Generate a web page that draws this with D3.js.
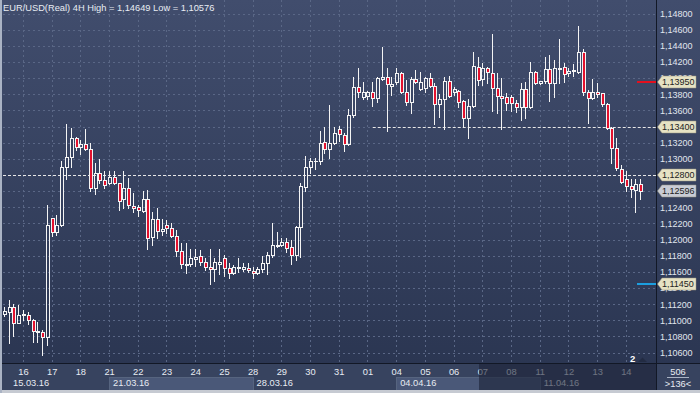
<!DOCTYPE html>
<html><head><meta charset="utf-8">
<script src="https://cdn.jsdelivr.net/npm/d3@7/dist/d3.min.js"></script>
<style>
body{margin:0;background:#fff}
svg{display:block}
text{font-family:"Liberation Sans",Arial,sans-serif}
</style>
</head><body>
<svg id="c" width="700" height="393"></svg>
<script>
// ---------- DATA ----------
const title = "EUR/USD(Real) 4H High = 1,14649 Low = 1,10576";
const tradingDays = ["2016-03-15","2016-03-16","2016-03-17","2016-03-18","2016-03-21","2016-03-22","2016-03-23","2016-03-24","2016-03-25","2016-03-28","2016-03-29","2016-03-30","2016-03-31","2016-04-01","2016-04-04","2016-04-05","2016-04-06","2016-04-07","2016-04-08","2016-04-11","2016-04-12","2016-04-13","2016-04-14"];
const firstDayHours = ["08:00","12:00","16:00","20:00"];
const fullDayHours = ["00:00","04:00","08:00","12:00","16:00","20:00"];
const lastDayHours = ["00:00","04:00","08:00","12:00"];
const weekLabels = ["15.03.16","21.03.16","28.03.16","04.04.16","11.04.16"];
const weekStartDays = [null,"2016-03-21","2016-03-28","2016-04-04","2016-04-11"];
const priceTicks = [1.106,1.108,1.110,1.112,1.114,1.116,1.118,1.120,1.122,1.124,1.126,1.128,1.130,1.132,1.134,1.136,1.138,1.140,1.142,1.144,1.146,1.148];

const open = [
1.11082,1.11107,1.11162,1.10964,1.11066,1.11066,1.11004,1.10852,1.10852,1.10790,
1.12264,1.12098,1.12181,1.12895,1.13019,1.13255,1.13143,1.13180,1.13118,1.12635,
1.12821,1.12738,1.12697,1.12772,1.12697,1.12499,1.12635,1.12420,1.12400,1.12358,
1.12499,1.12029,1.12251,1.12107,1.12177,1.12140,1.12048,1.11859,1.11694,1.11694,
1.11760,1.11797,1.11719,1.11657,1.11632,1.11702,1.11768,1.11645,1.11583,1.11645,
1.11636,1.11645,1.11615,1.11583,1.11632,1.11707,1.11806,1.11925,1.11937,1.11967,
1.11905,1.11806,1.12152,1.12655,1.12895,1.12968,1.12973,1.13205,1.13122,1.13193,
1.13370,1.13292,1.13180,1.13543,1.13886,1.13762,1.13782,1.13824,1.13750,1.13993,
1.14010,1.13906,1.13948,1.14060,1.13832,1.13708,1.13985,1.13865,1.13874,1.14005,
1.13902,1.13676,1.13738,1.13968,1.13832,1.13840,1.13716,1.13502,1.13655,1.14141,
1.13985,1.14121,1.14067,1.13874,1.13782,1.13762,1.13762,1.13688,1.13638,1.13861,
1.13638,1.14072,1.13936,1.13960,1.14109,1.13936,1.14116,1.14134,1.14060,1.14088,
1.14079,1.14327,1.13824,1.13757,1.13824,1.13812,1.13676,1.13378,1.13131,1.12871,
1.12747,1.12664,1.12614,1.12689];
const high = [
1.11165,1.11252,1.11203,1.11190,1.11128,1.11100,1.11017,1.10983,1.10881,1.12429,
1.12268,1.12305,1.12973,1.13432,1.13386,1.13274,1.13233,1.13370,1.13196,1.12949,
1.12998,1.12850,1.12850,1.12850,1.12701,1.12850,1.12763,1.12577,1.12429,1.12606,
1.12614,1.12346,1.12391,1.12251,1.12243,1.12202,1.12119,1.11954,1.11954,1.11880,
1.11884,1.11871,1.11768,1.11884,1.11776,1.11884,1.11809,1.11707,1.11685,1.11776,
1.11714,1.11707,1.11664,1.11664,1.11797,1.11850,1.12209,1.12098,1.12024,1.12016,
1.11995,1.12168,1.12697,1.13035,1.13007,1.13014,1.13345,1.13391,1.13667,1.13391,
1.13407,1.13316,1.13617,1.14017,1.14121,1.13948,1.13840,1.13948,1.14017,1.14381,
1.14121,1.14017,1.14121,1.14079,1.13976,1.14017,1.14100,1.14079,1.14017,1.14060,
1.13936,1.13803,1.14010,1.14026,1.13890,1.13853,1.13729,1.13741,1.14320,1.14265,
1.14183,1.14141,1.14546,1.14067,1.13998,1.13812,1.13791,1.13729,1.13943,1.13955,
1.14196,1.14088,1.13968,1.14265,1.14286,1.14224,1.14484,1.14183,1.14121,1.14171,
1.14649,1.14357,1.13853,1.13989,1.13936,1.13819,1.13688,1.13391,1.13255,1.12924,
1.12853,1.12747,1.12747,1.12747];
const low = [
1.11054,1.10716,1.10810,1.10964,1.11004,1.10951,1.10736,1.10736,1.10576,1.10695,
1.12045,1.12057,1.12170,1.12750,1.12903,1.13110,1.13060,1.13110,1.12606,1.12565,
1.12701,1.12639,1.12690,1.12690,1.12367,1.12395,1.12391,1.12346,1.12296,1.12346,
1.11880,1.11933,1.12020,1.12057,1.12085,1.12036,1.11797,1.11652,1.11590,1.11677,
1.11673,1.11685,1.11624,1.11446,1.11491,1.11574,1.11549,1.11528,1.11574,1.11603,
1.11615,1.11603,1.11528,1.11570,1.11595,1.11570,1.11788,1.11912,1.11925,1.11843,
1.11694,1.11747,1.11788,1.12602,1.12829,1.12871,1.12933,1.13076,1.13014,1.13184,
1.13221,1.13101,1.13172,1.13515,1.13770,1.13741,1.13741,1.13658,1.13708,1.13976,
1.13349,1.13791,1.13927,1.13812,1.13667,1.13572,1.13936,1.13853,1.13832,1.13886,
1.13432,1.13522,1.13366,1.13770,1.13791,1.13646,1.13398,1.13262,1.13638,1.13915,
1.13915,1.13936,1.13596,1.13564,1.13370,1.13605,1.13596,1.13584,1.13481,1.13510,
1.13626,1.13927,1.13927,1.13936,1.13716,1.13770,1.13943,1.13955,1.14026,1.14030,
1.14067,1.13791,1.13448,1.13738,1.13762,1.13658,1.13366,1.12945,1.12862,1.12697,
1.12606,1.12531,1.12346,1.12503];
const close = [
1.11116,1.11162,1.10964,1.11066,1.11082,1.11004,1.10872,1.10872,1.10790,1.12181,
1.12098,1.12181,1.12895,1.13019,1.13255,1.13143,1.13180,1.13118,1.12635,1.12821,
1.12738,1.12676,1.12772,1.12697,1.12482,1.12635,1.12429,1.12388,1.12367,1.12499,
1.12016,1.12251,1.12107,1.12128,1.12140,1.12048,1.11859,1.11694,1.11690,1.11768,
1.11788,1.11719,1.11657,1.11632,1.11719,1.11719,1.11645,1.11583,1.11657,1.11657,
1.11657,1.11620,1.11583,1.11632,1.11707,1.11806,1.11933,1.11933,1.11967,1.11900,
1.11806,1.12160,1.12664,1.12903,1.12973,1.12973,1.13193,1.13122,1.13200,1.13316,
1.13308,1.13180,1.13543,1.13886,1.13824,1.13824,1.13824,1.13750,1.13998,1.14010,
1.13923,1.13927,1.14060,1.13832,1.13708,1.13985,1.13948,1.13955,1.14005,1.13902,
1.13676,1.13738,1.13968,1.13778,1.13861,1.13708,1.13502,1.13655,1.14150,1.13976,
1.14121,1.14072,1.13874,1.13782,1.13757,1.13695,1.13688,1.13646,1.13861,1.13638,
1.14072,1.13936,1.13960,1.14109,1.13936,1.14121,1.14129,1.14047,1.14092,1.14100,
1.14327,1.13824,1.13757,1.13824,1.13803,1.13676,1.13378,1.13131,1.12883,1.12717,
1.12664,1.12623,1.12689,1.12596];

// horizontal level objects
const dashedLevels = [{v:1.134, from:"2016-04-01 04:00"}, {v:1.128, from:null}];
const markerLevels = [{v:1.1395, color:"#e5101e"}, {v:1.1145, color:"#1c9fe0"}];
const priceLabels = [
  {v:1.1395, text:"1,13950", bg:"#e6e2c4"},
  {v:1.134, text:"1,13400", bg:"#e6e2c4"},
  {v:1.128, text:"1,12800", bg:"#e6e2c4"},
  {v:1.12596, text:"1,12596", bg:"#c8ccd5"},
  {v:1.1145, text:"1,11450", bg:"#e6e2c4"}
];

// ---------- BUILD ----------
const times = [];
tradingDays.forEach((d,i) => {
  const hrs = i===0 ? firstDayHours : (i===tradingDays.length-1 ? lastDayHours : fullDayHours);
  hrs.forEach(h => times.push(d + " " + h));
});
const candles = times.map((t,i) => ({t, o:open[i], h:high[i], l:low[i], c:close[i]}));
const dayStarts = tradingDays.slice(1).map(d => d + " 00:00");

const W=700, H=393, PL=3, PR=656, PB=363, AB=390;
const svg = d3.select("#c");
const x = d3.scaleBand().domain(times).range([1.9, 643.1]).padding(0);
const y = d3.scaleLinear().domain([1.106, 1.148]).range([352.65, 13.5]);
const xc = t => x(t) + x.bandwidth()/2;
const fs = "9.3px";
const fsAxis = "9px";

const defs = svg.append("defs");
const gr = defs.append("linearGradient").attr("id","bg").attr("x1",0).attr("y1",0).attr("x2",0).attr("y2",1);
gr.append("stop").attr("offset","0%").attr("stop-color","#414d6d");
gr.append("stop").attr("offset","100%").attr("stop-color","#2b3652");
defs.append("clipPath").attr("id","clip").append("rect").attr("x",PL).attr("y",0).attr("width",PR-PL).attr("height",PB);

// backgrounds
svg.append("rect").attr("width",W).attr("height",H).attr("fill","#37435f");
svg.append("rect").attr("x",0).attr("y",0).attr("width",W).attr("height",PB).attr("fill","url(#bg)");

// grid
const grid = svg.append("g").attr("clip-path","url(#clip)");
grid.selectAll("line.h").data(priceTicks).join("line").attr("class","h")
  .attr("x1",PL).attr("x2",PR)
  .attr("y1",d=>Math.round(y(d))+0.5).attr("y2",d=>Math.round(y(d))+0.5)
  .attr("stroke","#5a6786").attr("stroke-dasharray","2,3");
grid.selectAll("line.v").data(dayStarts).join("line").attr("class","v")
  .attr("x1",d=>Math.floor(xc(d))+0.5).attr("x2",d=>Math.floor(xc(d))+0.5)
  .attr("y1",0).attr("y2",PB)
  .attr("stroke","#5a6786").attr("stroke-dasharray","2,3");

// dashed levels
grid.selectAll("line.lvl").data(dashedLevels).join("line").attr("class","lvl")
  .attr("x1",d=> d.from ? xc(d.from) : PL).attr("x2",PR)
  .attr("y1",d=>Math.round(y(d.v))+0.5).attr("y2",d=>Math.round(y(d.v))+0.5)
  .attr("stroke","#e8e8e8").attr("stroke-dasharray","3,2");

// candles
const cg = svg.append("g").attr("clip-path","url(#clip)");
const cs = cg.selectAll("g.cd").data(candles).join("g").attr("class","cd");
cs.each(function(d){
  const g = d3.select(this);
  const n = Math.floor(xc(d.t));
  const xw = n + 0.5;
  const yo = Math.round(y(d.o)), yc2 = Math.round(y(d.c));
  const yh = Math.round(y(d.h)), yl = Math.round(y(d.l));
  const top = Math.min(yo,yc2), bot = Math.max(yo,yc2);
  const bull = d.c >= d.o;
  if (yh < top) g.append("line").attr("x1",xw).attr("x2",xw).attr("y1",yh).attr("y2",top).attr("stroke","#f4f4f4");
  if (yl > bot) g.append("line").attr("x1",xw).attr("x2",xw).attr("y1",bot+1).attr("y2",yl+1).attr("stroke","#f4f4f4");
  if (bot - top < 1) {
    g.append("line").attr("x1",n-1).attr("x2",n+3).attr("y1",top+0.5).attr("y2",top+0.5).attr("stroke","#f4f4f4");
  } else {
    g.append("rect").attr("x",n-0.5).attr("y",top+0.5).attr("width",3).attr("height",bot-top)
      .attr("fill", bull ? "none" : "#e3112e").attr("stroke","#f4f4f4");
  }
});

// marker lines at right
svg.selectAll("line.mk").data(markerLevels).join("line").attr("class","mk")
  .attr("x1",637).attr("x2",PR).attr("y1",d=>Math.round(y(d.v))).attr("y2",d=>Math.round(y(d.v)))
  .attr("stroke",d=>d.color).attr("stroke-width",2);

// title
svg.append("text").attr("x",3).attr("y",11).attr("fill","#e8ecf3").style("font-size",fs).text(title);

// shift marker
svg.append("text").attr("x",630).attr("y",361.5).attr("fill","#ffffff").style("font-size","9.5px").style("font-weight","bold").text("2");
svg.append("path").attr("d","M638,362L642.5,357.5L647,362Z").attr("fill","#222b42");

// x axis band
svg.append("rect").attr("x",0).attr("y",PB).attr("width",W).attr("height",AB-PB).attr("fill","#37435f");
// week boxes (alternating)
const weekBoxes = [[weekStartDays[1], weekStartDays[2]], [weekStartDays[3], weekStartDays[4]]];
svg.selectAll("rect.wk").data(weekBoxes).join("rect").attr("class","wk")
  .attr("x",d=>Math.floor(xc(d[0]+" 00:00"))+0.5).attr("y",377.5)
  .attr("width",d=>Math.floor(xc(d[1]+" 00:00"))-Math.floor(xc(d[0]+" 00:00")))
  .attr("height",13).attr("fill","#4a5878").attr("stroke","#56647f");

// day labels axis
const xAxis = d3.axisBottom(x).tickValues(dayStarts).tickFormat(t=>t.slice(8,10)).tickSize(0);
const xg = svg.append("g").attr("transform",`translate(0,${PB})`).call(xAxis);
xg.select(".domain").remove();
xg.selectAll("text").attr("y",12).attr("dy",0).attr("fill","#e8ecf3")
  .style("font-size",fs).style("font-family","'Liberation Sans',Arial,sans-serif");

// week labels
svg.selectAll("text.wl").data(weekLabels).join("text").attr("class","wl")
  .attr("x",(d,i)=> weekStartDays[i] ? xc(weekStartDays[i]+" 00:00")+3.5 : 13)
  .attr("y",386).attr("fill","#e8ecf3").style("font-size",fs).text(d=>d);

// dark overlay over the end of the time axis
svg.append("rect").attr("x",479).attr("y",PB+1).attr("width",PR-479).attr("height",AB-PB-1)
  .attr("fill","#1b2236").attr("opacity",0.6);

// price axis (ticks fully hidden behind a highlighted label are not drawn)
const hidden = v => priceLabels.some(p => Math.abs(y(p.v) - y(v)) < 2.5);
const yAxis = d3.axisRight(y).tickValues(priceTicks.filter(v => !hidden(v)))
  .tickFormat(v=>v.toFixed(5).replace(".",",")).tickSize(0).tickPadding(4);
const yg = svg.append("g").attr("transform",`translate(${PR},0)`).call(yAxis);
yg.select(".domain").remove();
yg.selectAll("text").attr("fill","#e0e6ef").style("font-size",fsAxis).style("font-family","'Liberation Sans',Arial,sans-serif");

// highlighted price labels
const pl = svg.selectAll("g.pl").data(priceLabels).join("g").attr("class","pl")
  .attr("transform",d=>`translate(0,${Math.round(y(d.v))})`);
pl.append("path").attr("d","M657.5,0L662,-6L696,-6L696,6L662,6Z").attr("fill",d=>d.bg).attr("stroke","#9a9780").attr("stroke-width",0.5);
pl.append("text").attr("x",662).attr("y",0).attr("dy","0.34em").attr("fill","#222222").style("font-size",fsAxis).text(d=>d.text);

// separators and borders
svg.append("line").attr("x1",0).attr("x2",W).attr("y1",PB+0.5).attr("y2",PB+0.5).attr("stroke","#121826");
svg.append("line").attr("x1",PR+0.5).attr("x2",PR+0.5).attr("y1",0).attr("y2",AB).attr("stroke","#121826");

// bottom-right counters
svg.append("text").attr("x",678).attr("y",375).attr("text-anchor","middle").attr("fill","#e8ecf3").style("font-size",fs).text("506");
svg.append("line").attr("x1",667).attr("x2",689).attr("y1",377.5).attr("y2",377.5).attr("stroke","#aab3c4");
svg.append("text").attr("x",678).attr("y",387).attr("text-anchor","middle").attr("fill","#e8ecf3").style("font-size",fs).text(">136<");

svg.append("rect").attr("x",0).attr("y",AB).attr("width",W).attr("height",H-AB).attr("fill","#c6cad2");
svg.append("rect").attr("x",0).attr("y",0).attr("width",2).attr("height",H).attr("fill","#aab3c4");
</script>
</body></html>
